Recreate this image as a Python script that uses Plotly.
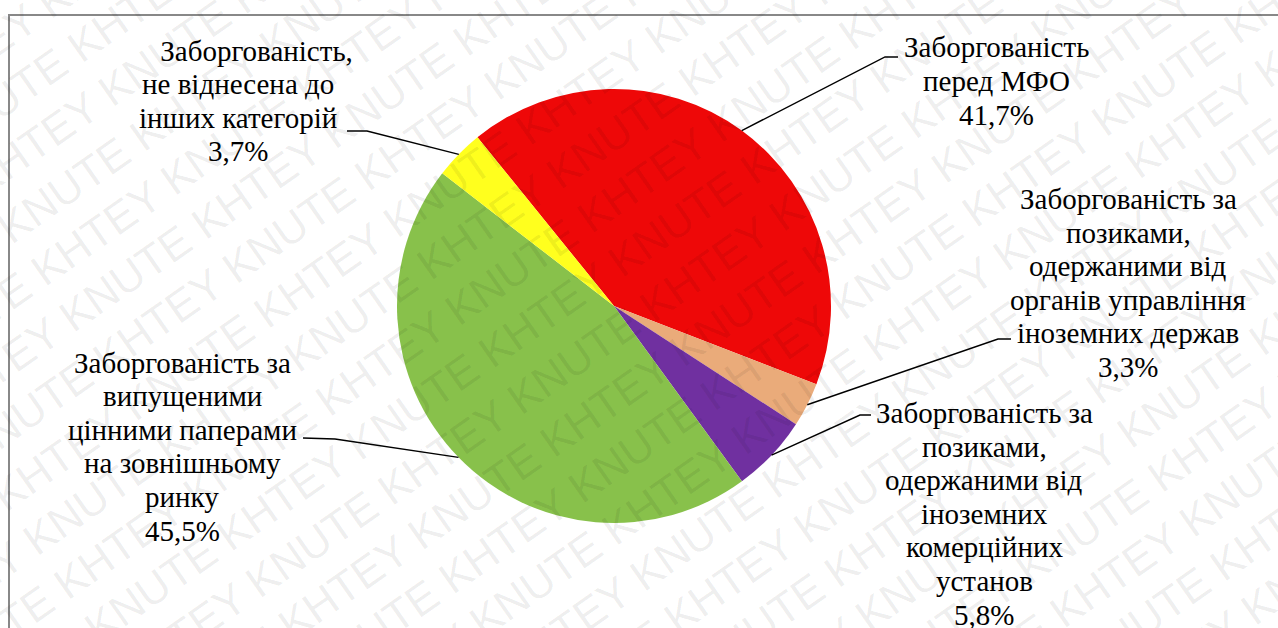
import math
import plotly.graph_objects as go

# ---- data ----
labels = [
    "Заборгованість перед МФО",
    "Заборгованість за позиками, одержаними від органів управління іноземних держав",
    "Заборгованість за позиками, одержаними від іноземних комерційних установ",
    "Заборгованість за випущеними цінними паперами на зовнішньому ринку",
    "Заборгованість, не віднесена до інших категорій",
]
values = [41.7, 3.3, 5.8, 45.5, 3.7]
label_lines = [
    ["Заборгованість", "перед МФО", "41,7%"],
    ["Заборгованість за", "позиками,", "одержаними від", "органів управління", "іноземних держав", "3,3%"],
    ["Заборгованість за", "позиками,", "одержаними від", "іноземних", "комерційних", "установ", "5,8%"],
    ["Заборгованість за", "випущеними", "цінними паперами", "на зовнішньому", "ринку", "45,5%"],
    ["\u00a0\u00a0\u00a0\u00a0\u00a0Заборгованість,", "не віднесена до", "інших категорій", "3,7%"],
]
colors = ["#EE0808", "#EAAB7A", "#7030A0", "#88C14B", "#FFFF1E"]
watermark_words = ["KHTEY", "KNUTE"]

# ---- layout ----
W, H = 1278, 628
CX, CY, R = 614, 306, 217
ROT = -39
SERIF = "Times New Roman, Liberation Serif, serif"
FS = 29
LINE_H = 33.6

# label: centre x and first-line centre y (px); leader elbows (px)
label_pos = [(996, 47.5), (1128, 199), (984, 413), (182, 362.5), (238, 50.5)]
leader_pts = [
    [(885, 57), (898, 57)],
    [(998, 339), (1011, 339)],
    [(860, 415), (871, 415)],
    [(335, 439), (303, 438)],
    [(367, 131), (347, 131)],
]


def px(x):
    return x / W


def py(y):
    return 1 - y / H


fig = go.Figure()
fig.add_trace(go.Pie(
    labels=labels, values=values, sort=False, direction="clockwise",
    rotation=ROT, textinfo="none", hoverinfo="label+percent",
    marker=dict(colors=colors, line=dict(width=0)),
    domain=dict(x=[px(CX - R), px(CX + R)], y=[py(CY + R), py(CY - R)]),
    showlegend=False,
))

shapes = []
annotations = []

# watermark: rows of rotated text
ang = math.radians(35)
nx, ny = math.sin(ang), math.cos(ang)
S = 54
for k in range(-14, 15):
    words = watermark_words if k % 2 == 0 else watermark_words[::-1]
    row = " ".join(words * 6)
    cx = W / 2 + k * S * nx
    cy = H / 2 + k * S * ny
    annotations.append(dict(
        x=px(cx), y=py(cy), xref="paper", yref="paper", showarrow=False,
        text=row, textangle=-35, xanchor="center", yanchor="middle",
        font=dict(family="Liberation Sans", size=44, color="rgba(0,0,0,0.07)"),
    ))

total = sum(values)
cum = 0.0
for i, v in enumerate(values):
    mid = ROT + (cum + v / 2) / total * 360.0
    cum += v
    a = math.radians(mid)
    rx = CX + R * math.sin(a)
    ry = CY - R * math.cos(a)
    pts = [(rx, ry)] + leader_pts[i]
    path = "M " + " L ".join(f"{px(x):.5f},{py(y):.5f}" for x, y in pts)
    shapes.append(dict(type="path", xref="paper", yref="paper", path=path,
                       line=dict(color="black", width=1.4)))
    lx, ly = label_pos[i]
    for j, line in enumerate(label_lines[i]):
        annotations.append(dict(
            x=px(lx), y=py(ly + j * LINE_H), xref="paper", yref="paper", showarrow=False,
            text=line, align="center", xanchor="center", yanchor="middle",
            font=dict(family=SERIF, size=FS, color="black"),
        ))

# frame
shapes.append(dict(type="rect", xref="paper", yref="paper",
                   x0=px(9), x1=px(1290), y0=py(640), y1=py(15),
                   line=dict(color="#888888", width=2)))

fig.update_layout(
    width=W, height=H, margin=dict(l=0, r=0, t=0, b=0),
    paper_bgcolor="white", plot_bgcolor="white",
    shapes=shapes, annotations=annotations,
)
fig.write_html("out.html")
